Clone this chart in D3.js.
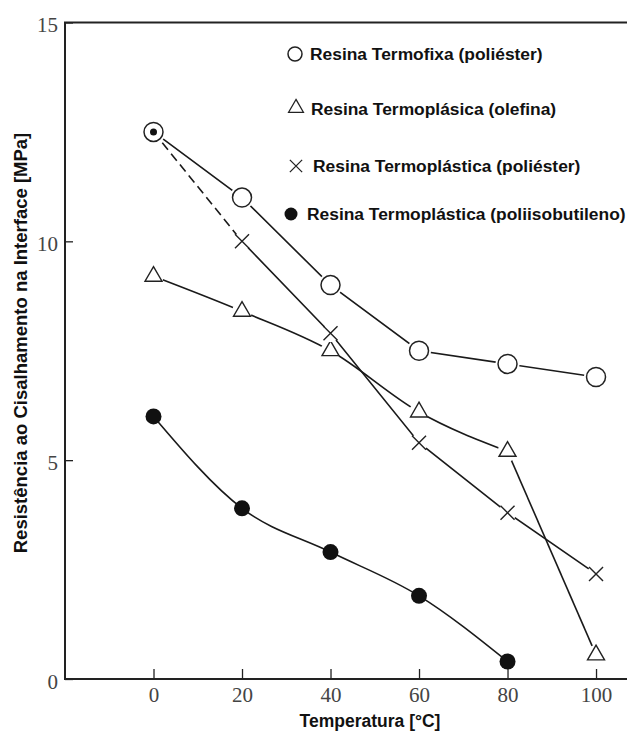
<!DOCTYPE html>
<html>
<head>
  <meta charset="utf-8">
  <title>Resistência ao cisalhamento</title>
  <script src="https://d3js.org/d3.v7.min.js"></script>
  <style>
    body { margin: 0; background: #fff; }
    svg { background-color: #fff; display: block; }
    .tick text { font-family: "Liberation Serif", "DejaVu Serif", serif; font-size: 21px; fill: #444; }
    .tick line { stroke: #222; stroke-width: 1.3; }
    .domain { display: none; }
    .lbl { font-family: "Liberation Sans", Arial, sans-serif; font-weight: bold; fill: #111; }
  </style>
</head>
<body>
  <script>
    // temperaturas e valores
    var temps = [0, 20, 40, 60, 80, 100];
    var termofixa = [12.5, 11.0, 9.0, 7.5, 7.2, 6.9];
    var olefina = [9.2, 8.4, 7.5, 6.1, 5.2, 0.55];
    var termoPoliester = [12.5, 10.0, 7.9, 5.4, 3.8, 2.4];
    var poliisobutileno = [6.0, 3.9, 2.9, 1.9, 0.4];
    var xTicks = [0, 20, 40, 60, 80, 100];
    var yTicks = [0, 5, 10, 15];
    var legendas = [
      "Resina Termofixa (poliéster)",
      "Resina Termoplásica (olefina)",
      "Resina Termoplástica (poliéster)",
      "Resina Termoplástica (poliisobutileno)"
    ];

    var width = 627, height = 734;
    var svg = d3.select("body").append("svg")
      .attr("width", width)
      .attr("height", height);

    var x = d3.scaleLinear().domain([-20, 107]).range([65, 627]);
    var y = d3.scaleLinear().domain([0, 15]).range([679, 22.5]);

    // moldura (topo, esquerda, base)
    svg.append("path")
      .attr("d", "M" + x(107) + "," + y(15) + "H" + x(-20) + "V" + y(0) + "H" + x(107))
      .attr("fill", "none")
      .attr("stroke", "#222")
      .attr("stroke-width", 2);

    var yAxis = svg.append("g")
      .attr("transform", "translate(" + x(-20) + ",0)")
      .call(d3.axisLeft(y).tickValues(yTicks).tickSize(-8).tickPadding(7));
    yAxis.selectAll(".tick text").attr("dy", "0.45em");

    svg.append("g")
      .attr("transform", "translate(0," + y(0) + ")")
      .call(d3.axisBottom(x).tickValues(xTicks).tickSize(-10).tickPadding(8));

    function pts(vals) {
      return vals.map(function(v, i) { return [temps[i], v]; });
    }

    function linha(data, curve, dash) {
      svg.append("path")
        .datum(data)
        .attr("fill", "none")
        .attr("stroke", "#1a1a1a")
        .attr("stroke-width", 1.6)
        .attr("stroke-dasharray", dash || null)
        .attr("d", d3.line()
          .x(function(d) { return x(d[0]); })
          .y(function(d) { return y(d[1]); })
          .curve(curve || d3.curveLinear));
    }

    // linhas
    var pTermofixa = pts(termofixa);
    var pOlefina = pts(olefina);
    var pTP = pts(termoPoliester);
    var pPIB = pts(poliisobutileno);

    linha(pTermofixa);
    linha(pOlefina.slice(0, 5), d3.curveMonotoneX);
    linha(pOlefina.slice(4));
    linha(pTP.slice(0, 2), null, "9,5");
    linha(pTP.slice(1));
    linha(pPIB, d3.curveMonotoneX);

    // marcadores
    var tri = d3.symbol().type(d3.symbolTriangle).size(125);
    var cruz = d3.symbol().type(d3.symbolTimes).size(130);

    function marcas(data, fn) {
      return svg.append("g").selectAll("g")
        .data(data)
        .enter().append("g")
        .attr("transform", function(d) { return "translate(" + x(d[0]) + "," + y(d[1]) + ")"; })
        .each(fn);
    }

    marcas(pTermofixa, function() {
      var g = d3.select(this);
      g.append("circle").attr("r", 12).attr("fill", "#fff");
      g.append("circle").attr("r", 9.5).attr("fill", "#fff").attr("stroke", "#222").attr("stroke-width", 1.5);
    });
    marcas(pOlefina, function() {
      var g = d3.select(this);
      g.append("circle").attr("r", 10).attr("fill", "#fff");
      g.append("path").attr("d", tri).attr("fill", "#fff").attr("stroke", "#222").attr("stroke-width", 1.4);
    });
    marcas(pTP.slice(1), function() {
      var g = d3.select(this);
      g.append("circle").attr("r", 9).attr("fill", "#fff");
      g.append("path").attr("d", cruz).attr("fill", "none").attr("stroke", "#222").attr("stroke-width", 1.4);
    });
    marcas(pTP.slice(0, 1), function() {
      d3.select(this).append("circle").attr("r", 3.5).attr("fill", "#111");
    });
    marcas(pPIB, function() {
      d3.select(this).append("circle").attr("r", 8).attr("fill", "#111");
    });

    // legenda
    var legY = [54, 109, 166, 214];
    var legX = [310, 311, 313, 307];
    var symX = [295, 296, 296, 291];
    var lg = svg.append("g");
    lg.append("circle").attr("cx", symX[0]).attr("cy", legY[0]).attr("r", 7)
      .attr("fill", "#fff").attr("stroke", "#222").attr("stroke-width", 1.5);
    lg.append("path").attr("transform", "translate(" + symX[1] + "," + (legY[1] - 1) + ")")
      .attr("d", d3.symbol().type(d3.symbolTriangle).size(95))
      .attr("fill", "#fff").attr("stroke", "#222").attr("stroke-width", 1.3);
    lg.append("path").attr("transform", "translate(" + symX[2] + "," + legY[2] + ")")
      .attr("d", d3.symbol().type(d3.symbolTimes).size(100))
      .attr("fill", "none").attr("stroke", "#222").attr("stroke-width", 1.3);
    lg.append("circle").attr("cx", symX[3]).attr("cy", legY[3]).attr("r", 6.5).attr("fill", "#111");

    lg.selectAll("text")
      .data(legendas)
      .enter().append("text")
      .attr("class", "lbl")
      .attr("x", function(d, i) { return legX[i]; })
      .attr("y", function(d, i) { return legY[i] + 6; })
      .style("font-size", "17.4px")
      .text(function(d) { return d; });

    // títulos dos eixos
    svg.append("text")
      .attr("class", "lbl")
      .attr("x", 370)
      .attr("y", 727)
      .attr("text-anchor", "middle")
      .style("font-size", "17.5px")
      .text("Temperatura [°C]");

    svg.append("text")
      .attr("class", "lbl")
      .attr("transform", "translate(27,343) rotate(-90)")
      .attr("text-anchor", "middle")
      .style("font-size", "18.5px")
      .text("Resistência ao Cisalhamento na Interface [MPa]");
  </script>
</body>
</html>
